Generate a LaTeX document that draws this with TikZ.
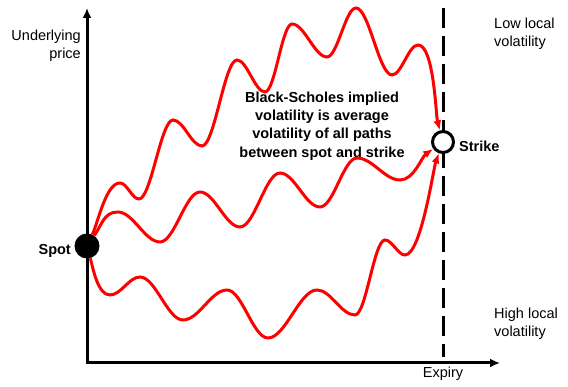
\documentclass[tikz,border=0pt]{standalone}
\usepackage{fontspec}
\setmainfont{Liberation Sans}
\usetikzlibrary{arrows.meta}

\newcommand{\labelsize}{\fontsize{14.5}{18.3}\selectfont}

\tikzset{
  axis/.style={line width=3pt, {Latex[length=10pt,width=9pt]}-{Latex[length=10pt,width=9pt]}},
  expline/.style={line width=3pt, dash pattern=on 20pt off 8pt},
  pricepath/.style={red, line width=3pt, -{Latex[length=10pt,width=8pt]}},
  wave/.style={out=0, in=180, distance=#1},
  txt/.style={inner sep=0pt},
  boldtxt/.style={inner sep=0pt, font=\labelsize\bfseries},
  spotdot/.style={circle, fill=black, minimum size=25pt, inner sep=0pt},
  strikedot/.style={circle, draw=black, fill=white, line width=3pt, minimum size=21pt, inner sep=0pt},
}

\begin{document}
\begin{tikzpicture}[x=1pt, y=1pt, font=\labelsize]
    \useasboundingbox (0,0) rectangle (568,387);
    % Axes
    \coordinate (ytop) at (87,379);
    \coordinate (xend) at (500,24);
    \coordinate (exptop) at (443,379);
    \coordinate (expbot) at (443,30);
    \draw[axis] (ytop) |- (xend);
    \draw[expline] (exptop) -- (expbot);
    % Nodes
    \node[spotdot] (spot) at (87,141) {};
    \node[strikedot] (strike) at (443,245) {};
    \node[txt, anchor=east, align=right] (ylabel) at (81,341) {Underlying\\price};
    \node[boldtxt, anchor=east] (spotlabel) at (71,136) {Spot};
    \node[boldtxt, anchor=west] (strikelabel) at (459,241) {Strike};
    \node[txt, anchor=west, align=left] (lowvol) at (494,353) {Low local\\volatility};
    \node[txt, anchor=west, align=left] (highvol) at (494,63) {High local\\volatility};
    \node[txt] (expiry) at (443,13) {Expiry};
    \node[boldtxt, align=center] (note) at (322,261)
        {Black-Scholes implied\\volatility is average\\volatility of all paths\\between spot and strike};
    % Price paths
    \draw[pricepath] (spot) to[out=65, in=180, distance=14pt] (120,204) to[wave=7pt] (139,188)
        to[wave=12pt] (173,267) to[wave=10.5pt] (202,241) to[wave=12.5pt] (237,327)
        to[wave=10pt] (265,295) to[wave=10pt] (292,363) to[wave=12.5pt] (327,330)
        to[wave=10.5pt] (356,379) to[wave=13pt] (392,312) to[wave=9.5pt] (418,342)
        to[out=0, in=105, distance=16pt] (strike);
    \draw[pricepath] (spot) to[out=55, in=180, distance=14pt] (118,175) to[wave=15pt] (160,145)
        to[wave=14.5pt] (200,195) to[wave=14.5pt] (240,160) to[wave=14.5pt] (280,214)
        to[wave=14.5pt] (320,180) to[wave=13.5pt] (357,229) to[wave=15.5pt] (400,207)
        to[out=0, in=215, distance=14pt] (strike);
    \draw[pricepath] (spot) to[out=-75, in=180, distance=12pt] (110,92) to[wave=11pt] (140,110)
        to[wave=15.5pt] (183,67) to[wave=16pt] (227,97) to[wave=15pt] (268,49)
        to[wave=17.5pt] (317,97) to[wave=14pt] (355,72) to[wave=11pt] (385,147)
        to[wave=7pt] (405,132) to[out=0, in=250, distance=16pt] (strike);
\end{tikzpicture}
\end{document}
